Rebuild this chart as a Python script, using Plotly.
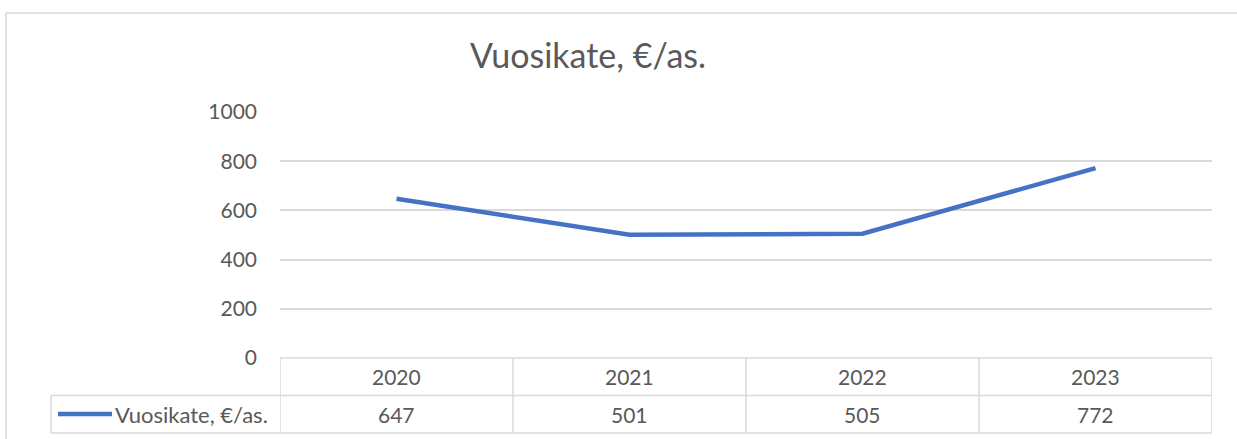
import plotly.graph_objects as go

# ---- data ----
years = ["2020", "2021", "2022", "2023"]
values = [647, 501, 505, 772]
series_name = "Vuosikate, €/as."
title_text = "Vuosikate, €/as."
y_ticks = [0, 200, 400, 600, 800, 1000]

# ---- style / geometry ----
W, H = 1237, 439
L, R, T, B = 280, 25, 112, 81
PW, PH = W - L - R, H - T - B
GRID = "#D9D9D9"
TXT = "#595959"
LINE = "#4472C4"
FONT = "Lato"


def px(x):
    return (x - L) / PW


def py(y):
    return (H - B - y) / PH


fig = go.Figure()
fig.add_trace(go.Scatter(
    x=years, y=values, mode="lines", name=series_name,
    line=dict(color=LINE, width=4.5), showlegend=False, hoverinfo="x+y",
))

shapes = []
# chart outer border (left and top)
shapes.append(dict(type="line", xref="paper", yref="paper", x0=px(6), x1=px(6), y0=py(13), y1=py(H + 5),
                   line=dict(color=GRID, width=1.5)))
shapes.append(dict(type="line", xref="paper", yref="paper", x0=px(6), x1=px(W + 5), y0=py(13), y1=py(13),
                   line=dict(color=GRID, width=1.5)))

row1_top, row1_bot, row2_bot = H - B, 395.5, 433
# horizontal table lines
shapes.append(dict(type="line", xref="paper", yref="paper", x0=0, x1=1, y0=py(row1_top), y1=py(row1_top),
                   line=dict(color=GRID, width=1.5)))
for yy in (row1_bot, row2_bot):
    shapes.append(dict(type="line", xref="paper", yref="paper", x0=px(51), x1=1, y0=py(yy), y1=py(yy),
                       line=dict(color=GRID, width=1.5)))
# legend cell left border
shapes.append(dict(type="line", xref="paper", yref="paper", x0=px(51), x1=px(51), y0=py(row1_bot), y1=py(row2_bot),
                   line=dict(color=GRID, width=1.5)))
# category boundaries
for i in range(len(years) + 1):
    shapes.append(dict(type="line", xref="x", yref="paper", x0=i - 0.5, x1=i - 0.5,
                       y0=py(row1_top), y1=py(row2_bot), line=dict(color=GRID, width=1.5)))
# legend sample
shapes.append(dict(type="line", xref="paper", yref="paper", x0=px(58), x1=px(112), y0=py(414), y1=py(414),
                   line=dict(color=LINE, width=4.5)))

annotations = []
for i, (yr, v) in enumerate(zip(years, values)):
    annotations.append(dict(x=i, y=py((row1_top + row1_bot) / 2), xref="x", yref="paper", text=yr,
                            showarrow=False, font=dict(family=FONT, size=21, color=TXT),
                            xanchor="center", yanchor="middle"))
    annotations.append(dict(x=i, y=py((row1_bot + row2_bot) / 2), xref="x", yref="paper", text=str(v),
                            showarrow=False, font=dict(family=FONT, size=21, color=TXT),
                            xanchor="center", yanchor="middle"))
annotations.append(dict(x=px(113), y=py((row1_bot + row2_bot) / 2), xref="paper", yref="paper", text=series_name,
                        showarrow=False, font=dict(family=FONT, size=22, color=TXT),
                        xanchor="left", yanchor="middle"))

fig.update_layout(
    width=W, height=H,
    margin=dict(l=L, r=R, t=T, b=B, autoexpand=False),
    paper_bgcolor="white", plot_bgcolor="white",
    title=dict(text=title_text, x=px(588), xref="paper", xanchor="center",
               y=1 - 56 / H, yref="container", yanchor="middle",
               font=dict(family=FONT, size=34, color=TXT)),
    xaxis=dict(type="category", range=[-0.5, len(years) - 0.5], showticklabels=False,
               showgrid=False, zeroline=False, showline=False, ticks=""),
    yaxis=dict(range=[0, 1000], tickvals=y_ticks, showgrid=True, gridcolor=GRID, gridwidth=1.5,
               zeroline=False, showline=False, ticks="", ticklabelstandoff=22,
               tickfont=dict(family=FONT, size=21, color=TXT)),
    shapes=shapes, annotations=annotations, showlegend=False,
)

fig.write_html("out.html", config={"displayModeBar": False},
               post_script="document.body.style.margin='0';document.body.style.overflow='hidden';")
